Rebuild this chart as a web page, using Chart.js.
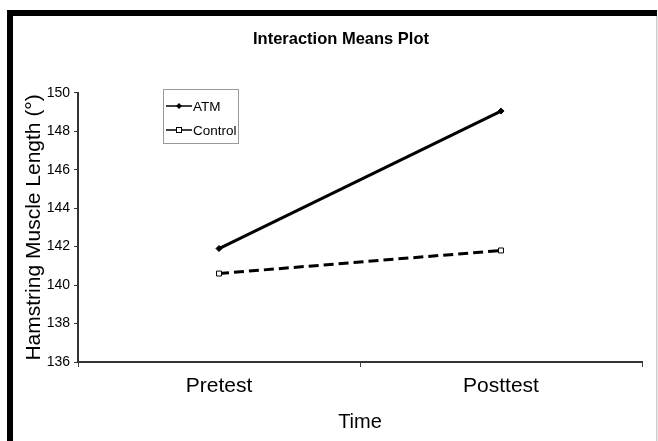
<!DOCTYPE html>
<html>
<head>
<meta charset="utf-8">
<script src="https://cdn.jsdelivr.net/npm/chart.js@4.4.0/dist/chart.umd.min.js"></script>
<style>
  html, body { margin: 0; padding: 0; background: #fff; }
  #wrap { position: relative; width: 658px; height: 441px; }
</style>
</head>
<body>
<div id="wrap"><canvas id="c" width="658" height="441"></canvas></div>
<script>
const categories = ['Pretest', 'Posttest'];
const atmValues = [141.9, 149.05];
const controlValues = [140.6, 141.8];
const seriesNames = ['ATM', 'Control'];
const yTicks = [136, 138, 140, 142, 144, 146, 148, 150];

const SANS = '"Liberation Sans", Arial, sans-serif';

const framePlugin = {
  id: 'frame',
  beforeDraw(chart) {
    const ctx = chart.ctx;
    ctx.save();
    ctx.fillStyle = '#fff';
    ctx.fillRect(0, 0, chart.width, chart.height);
    ctx.fillStyle = '#000';
    ctx.fillRect(7, 10, 650, 6);
    ctx.fillRect(7, 10, 6, chart.height - 10);
    ctx.fillStyle = '#d0d0d0';
    ctx.fillRect(656, 16, 1.5, chart.height - 16);
    ctx.restore();
  }
};

const boxLegendPlugin = {
  id: 'boxLegend',
  afterDraw(chart) {
    const ctx = chart.ctx;
    const x0 = 163, y0 = 89, w = 75, h = 54;
    ctx.save();
    ctx.strokeStyle = '#999';
    ctx.lineWidth = 1;
    ctx.strokeRect(x0 + 0.5, y0 + 0.5, w, h);
    ctx.font = '13.5px ' + SANS;
    ctx.textBaseline = 'middle';
    ctx.fillStyle = '#000';
    const rows = [106, 130];
    chart.data.datasets.forEach((ds, i) => {
      const y = rows[i];
      ctx.strokeStyle = '#000';
      ctx.lineWidth = 1.5;
      ctx.setLineDash([]);
      ctx.beginPath();
      ctx.moveTo(166, y);
      ctx.lineTo(192, y);
      ctx.stroke();
      if (ds.pointStyle === 'rect') {
        ctx.fillStyle = '#fff';
        ctx.fillRect(176, y - 3, 6, 6);
        ctx.lineWidth = 1;
        ctx.strokeRect(176.5, y - 2.5, 5, 5);
      } else {
        ctx.fillStyle = '#000';
        ctx.beginPath();
        ctx.moveTo(179, y - 3); ctx.lineTo(182, y); ctx.lineTo(179, y + 3); ctx.lineTo(176, y);
        ctx.closePath(); ctx.fill();
      }
      ctx.fillStyle = '#000';
      ctx.fillText(ds.label, 193, y + 1);
    });
    ctx.restore();
  }
};

new Chart(document.getElementById('c'), {
  type: 'line',
  data: {
    labels: categories,
    datasets: [
      {
        label: seriesNames[0],
        data: atmValues,
        borderColor: '#000',
        backgroundColor: '#000',
        borderWidth: 3,
        pointStyle: 'rectRot',
        pointRadius: 3,
        pointBackgroundColor: '#000',
        pointBorderColor: '#000',
        pointBorderWidth: 1,
        tension: 0
      },
      {
        label: seriesNames[1],
        data: controlValues,
        borderColor: '#000',
        backgroundColor: '#fff',
        borderWidth: 3,
        borderDash: [10, 5],
        pointStyle: 'rect',
        pointRadius: 3.5,
        pointBackgroundColor: '#fff',
        pointBorderColor: '#000',
        pointBorderWidth: 1,
        tension: 0
      }
    ]
  },
  options: {
    responsive: false,
    animation: false,
    devicePixelRatio: 1,
    layout: { padding: { left: 40, right: 16, top: 16, bottom: 0 } },
    plugins: {
      legend: { display: false },
      tooltip: { enabled: false },
      title: {
        display: true,
        text: 'Interaction Means Plot',
        color: '#000',
        font: { family: SANS, size: 16.5, weight: 'bold', lineHeight: 1.2 },
        padding: { top: 14, bottom: 43 }
      }
    },
    scales: {
      x: {
        type: 'category',
        offset: true,
        afterFit(scale) { scale.height = 79; },
        grid: { offset: true, drawOnChartArea: false, drawTicks: true, tickLength: 5, color: '#444', lineWidth: 1 },
        border: { display: true, color: '#333', width: 2 },
        ticks: { color: '#000', font: { family: SANS, size: 21 }, padding: 7, maxRotation: 0 },
        title: { display: true, text: 'Time', color: '#000', font: { family: SANS, size: 20, lineHeight: 1.2 }, padding: { top: 0, bottom: 7 } }
      },
      y: {
        min: 136,
        max: 150,
        afterFit(scale) { scale.width = 38; },
        afterBuildTicks(scale) { scale.ticks = yTicks.map(v => ({ value: v })); },
        grid: { drawOnChartArea: false, drawTicks: true, tickLength: 4, color: '#333', lineWidth: 1 },
        border: { display: true, color: '#333', width: 2 },
        ticks: { color: '#000', font: { family: SANS, size: 14 }, padding: 4, stepSize: 2 },
        title: { display: true, text: 'Hamstring Muscle Length (°)', color: '#000', font: { family: SANS, size: 21, lineHeight: 1.2 }, padding: { top: -18, bottom: 0 } }
      }
    }
  },
  plugins: [framePlugin, boxLegendPlugin]
});
</script>
</body>
</html>
